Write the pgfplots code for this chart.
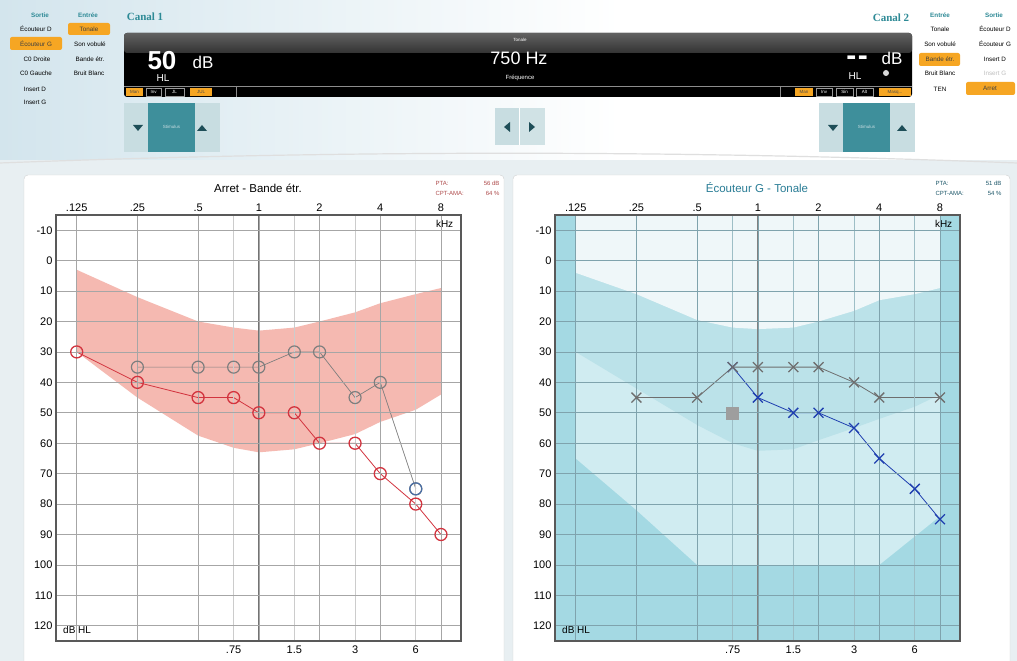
\documentclass[border=0pt]{standalone}
\usepackage{fontspec}
\setmainfont{Liberation Sans}
\newfontfamily\canalfont{Liberation Serif}
\usepackage{pgfplots}
\pgfplotsset{compat=1.18}

\definecolor{teal1}{HTML}{2E8A96}
\definecolor{orangeb}{HTML}{F6A623}
\definecolor{btnlight}{HTML}{C8DDE1}
\definecolor{btnteal}{HTML}{3E8F9B}
\definecolor{arrowc}{HTML}{1E4E58}
\definecolor{hdr}{HTML}{D3E5ED}
\definecolor{bgl}{HTML}{E8EFF2}
\definecolor{bandpink}{HTML}{F5B9B1}
\definecolor{redmark}{HTML}{D2343F}
\definecolor{graymark}{HTML}{7E7E7E}
\definecolor{bluecirc}{HTML}{4A6FA5}
\definecolor{zoneDark}{HTML}{A4D9E3}
\definecolor{zoneLight}{HTML}{D0ECF1}
\definecolor{zoneMid}{HTML}{BBE2E9}
\definecolor{zoneTop}{HTML}{EFF7F9}
\definecolor{xgray}{HTML}{6E6E6E}
\definecolor{xblue}{HTML}{1F3FB0}
\definecolor{titleteal}{HTML}{2A7D96}
\definecolor{gridR}{HTML}{7FA3AD}
\definecolor{gridRm}{HTML}{9DBEC6}

\newcommand{\ui}{\fontsize{6.3}{7}\selectfont}
\newcommand{\tinyf}{\fontsize{4.5}{5}\selectfont}
\newcommand{\tickf}{\fontsize{11}{12}\selectfont}

% x positions are octaves from 1 kHz: .125=-3 ... 8=3, .75=-0.415, 1.5=0.585, 3=1.585, 6=2.585

\begin{document}
\begin{tikzpicture}
\useasboundingbox (0pt,0pt) rectangle (1017pt,661pt);

\begin{scope}[x=1pt,y=-1pt,shift={(0pt,661pt)}]
% background
\fill[bgl] (0,0) rectangle (1017,661);
\fill[white] (0,0) rectangle (1017,160);
\shade[left color=hdr, right color=white] (0,0) rectangle (620,160);
\draw[gray!25, line width=1.2pt] (0,163) .. controls (340,150) and (680,150) .. (1017,163);
\draw[fill=white, draw=black!18, rounded corners=4pt] (24,175) rectangle (504,675);
\draw[fill=white, draw=black!18, rounded corners=4pt] (513,175) rectangle (1010,675);

% left menus
\node[font=\ui\bfseries, text=teal1] at (40,15) {Sortie};
\node[font=\ui\bfseries, text=teal1] at (88,15) {Entrée};
\node[font=\ui] at (36,29) {Écouteur D};
\fill[orangeb, rounded corners=2pt] (10,37) rectangle (62,50);
\node[font=\ui, text=black!75] at (36,44) {Écouteur G};
\node[font=\ui] at (37,59) {C0 Droite};
\node[font=\ui] at (36,73) {C0 Gauche};
\node[font=\ui] at (35,89) {Insert D};
\node[font=\ui] at (35,102) {Insert G};
\fill[orangeb, rounded corners=2pt] (68,23) rectangle (110,35);
\node[font=\ui, text=black!75] at (89,29) {Tonale};
\node[font=\ui] at (90,44) {Son vobulé};
\node[font=\ui] at (90,59) {Bande étr.};
\node[font=\ui] at (89,73) {Bruit Blanc};
\node[font=\canalfont\bfseries\fontsize{11}{12}\selectfont, text=teal1] at (145,17) {Canal 1};

% right menus
\node[font=\canalfont\bfseries\fontsize{11}{12}\selectfont, text=teal1] at (891,18) {Canal 2};
\node[font=\ui\bfseries, text=teal1] at (940,15) {Entrée};
\node[font=\ui\bfseries, text=teal1] at (994,15) {Sortie};
\node[font=\ui] at (940,29) {Tonale};
\node[font=\ui] at (940,44) {Son vobulé};
\fill[orangeb, rounded corners=2pt] (919,53) rectangle (960,66);
\node[font=\ui, text=black!75] at (940,59.5) {Bande étr.};
\node[font=\ui] at (940,73) {Bruit Blanc};
\node[font=\ui] at (940,89) {TEN};
\node[font=\ui] at (995,29) {Écouteur D};
\node[font=\ui] at (995,44) {Écouteur G};
\node[font=\ui] at (995,59) {Insert D};
\node[font=\ui, text=black!25] at (995,73) {Insert G};
\fill[orangeb, rounded corners=2pt] (966,82) rectangle (1015,95);
\node[font=\ui, text=black!75] at (990,88.5) {Arret};

% display
\fill[black, rounded corners=3pt] (124,33) rectangle (912,97);
\shade[top color=black!62, bottom color=black!80, rounded corners=3pt] (124,33) rectangle (912,53);
\draw[black!45, line width=0.5pt] (124,86) -- (912,86);
\draw[black!45, line width=0.4pt] (236,86) -- (236,97) (780,86) -- (780,97);
\node[font=\bfseries\fontsize{26}{28}\selectfont, white] at (162,61) {50};
\node[font=\fontsize{17}{18}\selectfont, white] at (203,62) {dB};
\node[font=\fontsize{10}{11}\selectfont, white] at (163,78) {HL};
\node[font=\tinyf, white] at (520,40) {Tonale};
\node[font=\fontsize{18}{20}\selectfont, white] at (519,58) {750 Hz};
\node[font=\fontsize{6}{7}\selectfont, white] at (520,78) {Fréquence};
\node[font=\bfseries\fontsize{30}{32}\selectfont, white, anchor=base, inner sep=0pt] at (857,66) {-\hspace{1.5pt}-};
\node[font=\fontsize{17}{18}\selectfont, white] at (892,58) {dB};
\node[font=\fontsize{10}{11}\selectfont, white] at (855,76) {HL};
\fill[black!15] (886,73) circle (3);
% display buttons
\fill[orangeb] (126,88) rectangle (143,96); \node[font=\tinyf, text=black!70] at (134.5,92) {Man};
\draw[black!40, line width=0.3pt] (146,88) rectangle (161,96); \node[font=\tinyf, white] at (153.5,92) {Inv};
\draw[black!40, line width=0.3pt] (165,88) rectangle (184,96); \node[font=\tinyf, white] at (174.5,92) {JL};
\fill[orangeb] (190,88) rectangle (212,96); \node[font=\tinyf, text=black!70] at (201,92) {JUL};
\fill[orangeb] (795,88) rectangle (813,96); \node[font=\tinyf, text=black!70] at (804,92) {Man};
\draw[black!40, line width=0.3pt] (816,88) rectangle (832,96); \node[font=\tinyf, white] at (824,92) {Inv};
\draw[black!40, line width=0.3pt] (836,88) rectangle (853,96); \node[font=\tinyf, white] at (844.5,92) {Sin};
\draw[black!40, line width=0.3pt] (856,88) rectangle (873,96); \node[font=\tinyf, white] at (864.5,92) {Alt};
\fill[orangeb] (879,88) rectangle (911,96); \node[font=\tinyf, text=black!70] at (895,92) {Masq...};

% stimulus rows
\fill[btnlight] (124,103) rectangle (148,152);
\fill[btnteal] (148,103) rectangle (195,152);
\fill[btnlight] (195,103) rectangle (220,152);
\node[font=\tinyf, text=btnlight] at (171.5,127) {Stimulus};
\fill[arrowc] (133,125) -- (143,125) -- (138,131) -- cycle;
\fill[arrowc] (197,131) -- (207,131) -- (202,125) -- cycle;
\fill[btnlight] (819,103) rectangle (843,152);
\fill[btnteal] (843,103) rectangle (890,152);
\fill[btnlight] (890,103) rectangle (915,152);
\node[font=\tinyf, text=btnlight] at (866.5,127) {Stimulus};
\fill[arrowc] (828,125) -- (838,125) -- (833,131) -- cycle;
\fill[arrowc] (897,131) -- (907,131) -- (902,125) -- cycle;
\fill[btnlight] (495,108) rectangle (519,145);
\fill[btnlight!85!white] (519,108) rectangle (545,145);
\draw[white, line width=0.5pt] (519,108) -- (519,145);
\fill[arrowc] (510,122) -- (510,132) -- (504,127) -- cycle;
\fill[arrowc] (529,122) -- (529,132) -- (535,127) -- cycle;

% chart titles and texts
\node[font=\fontsize{11.5}{12}\selectfont] at (258,188) {Arret - Bande étr.};
\node[font=\fontsize{11.5}{12}\selectfont, text=titleteal] at (757,188) {Écouteur G - Tonale};
\node[font=\fontsize{6}{7}\selectfont, text=red!55!black!70, anchor=west] at (432,183) {PTA:};
\node[font=\fontsize{6}{7}\selectfont, text=red!55!black!70, anchor=east] at (503,183) {56 dB};
\node[font=\fontsize{6}{7}\selectfont, text=red!55!black!70, anchor=west] at (432,193) {CPT-AMA:};
\node[font=\fontsize{6}{7}\selectfont, text=red!55!black!70, anchor=east] at (503,193) {64 \%};
\node[font=\fontsize{6}{7}\selectfont, text=titleteal!70!black, anchor=west] at (932,183) {PTA:};
\node[font=\fontsize{6}{7}\selectfont, text=titleteal!70!black, anchor=east] at (1005,183) {51 dB};
\node[font=\fontsize{6}{7}\selectfont, text=titleteal!70!black, anchor=west] at (932,193) {CPT-AMA:};
\node[font=\fontsize{6}{7}\selectfont, text=titleteal!70!black, anchor=east] at (1005,193) {54 \%};
\end{scope}

% ---------- left audiogram ----------
\begin{axis}[at={(56pt,20pt)}, anchor=south west,
  scale only axis, width=405pt, height=426pt,
  xmin=-3.341, xmax=3.33, y dir=reverse, ymin=-15, ymax=125,
  xtick={-3,-2,-1,0,1,2,3}, xticklabels={.125,.25,.5,1,2,4,8},
  xticklabel pos=upper,
  minor xtick={-0.415,0.585,1.585,2.585},
  ytick={-10,0,...,120},
  yticklabel style={/pgf/number format/assume math mode=true, font=\tickf},
  xticklabel style={font=\tickf},
  grid=both, major tick length=0pt, minor tick length=0pt,
  axis line style={draw=black!65, line width=1.1pt},
  major grid style={draw=black!35, line width=0.6pt},
  minor grid style={draw=black!20, line width=0.6pt},
  axis on top, clip=false]
% normal-hearing band: upper edge left to right, lower edge right to left
\addplot[fill=bandpink, draw=none] coordinates {
  (-3,3) (-2,12) (-1,20) (-0.415,22) (0,23) (0.585,22) (1,20) (1.585,17) (2,14) (2.585,11) (3,9)
  (3,44) (2.585,49) (2,53) (1.585,57) (1,60) (0.585,62) (0,63) (-0.415,61.5) (-1,57.5) (-2,45) (-3,30)} -- cycle;
\draw[black!55, line width=0.9pt] (axis cs:0,-15) -- (axis cs:0,125);
\addplot[graymark, line width=0.7pt, mark=o, mark size=6pt,
  mark options={line width=1.2pt, fill=white, fill opacity=0.5}] coordinates {
  (-2,35) (-1,35) (-0.415,35) (0,35) (0.585,30) (1,30) (1.585,45) (2,40) (2.585,75)};
\addplot[bluecirc, only marks, mark=o, mark size=6pt,
  mark options={line width=1.2pt, fill=white}] coordinates {(2.585,75)};
\addplot[redmark, line width=0.8pt, mark=o, mark size=6pt,
  mark options={line width=1.3pt, fill=white, fill opacity=0.5}] coordinates {
  (-3,30) (-2,40) (-1,45) (-0.415,45) (0,50) (0.585,50) (1,60) (1.585,60) (2,70) (2.585,80) (3,90)};
\node[font=\tickf, anchor=north, yshift=-1pt] at (axis cs:-0.415,125) {.75};
\node[font=\tickf, anchor=north, yshift=-1pt] at (axis cs:0.585,125) {1.5};
\node[font=\tickf, anchor=north, yshift=-1pt] at (axis cs:1.585,125) {3};
\node[font=\tickf, anchor=north, yshift=-1pt] at (axis cs:2.585,125) {6};
\node[font=\fontsize{10}{11}\selectfont] at (axis cs:3.06,-12) {kHz};
\node[font=\fontsize{10}{11}\selectfont, anchor=west] at (axis cs:-3.28,121.5) {dB HL};
\end{axis}

% ---------- right audiogram ----------
\begin{axis}[at={(555pt,20pt)}, anchor=south west,
  scale only axis, width=405pt, height=426pt,
  xmin=-3.341, xmax=3.33, y dir=reverse, ymin=-15, ymax=125,
  xtick={-3,-2,-1,0,1,2,3}, xticklabels={.125,.25,.5,1,2,4,8},
  xticklabel pos=upper,
  minor xtick={-0.415,0.585,1.585,2.585},
  ytick={-10,0,...,120},
  yticklabel style={/pgf/number format/assume math mode=true, font=\tickf},
  xticklabel style={font=\tickf},
  grid=both, major tick length=0pt, minor tick length=0pt,
  axis line style={draw=black!65, line width=1.1pt},
  major grid style={draw=gridR, line width=0.6pt},
  minor grid style={draw=gridRm, line width=0.6pt},
  axis on top, clip=false]
\addplot[fill=zoneDark, draw=none] coordinates {(-3.341,-15) (3.33,-15) (3.33,125) (-3.341,125)} -- cycle;
\addplot[fill=zoneLight, draw=none] coordinates {
  (-3,-15) (3,-15) (3,84) (2,100) (1,100) (0,100) (-1,100) (-2,82) (-3,65)} -- cycle;
\addplot[fill=zoneMid, draw=none] coordinates {
  (-3,-15) (3,-15) (3,44) (2.585,48) (2,52) (1.585,55) (1,59) (0.585,62) (0,62.5) (-0.415,60) (-1,54) (-2,42) (-3,30)} -- cycle;
\addplot[fill=zoneTop, draw=none] coordinates {
  (-3,-15) (3,-15) (3,9) (2.585,11) (2,13) (1.585,16.5) (1,20) (0.585,22) (0,22.5) (-0.415,22) (-1,19.5) (-2,11) (-3,4)} -- cycle;
\draw[black!50, line width=0.9pt] (axis cs:0,-15) -- (axis cs:0,125);
\addplot[only marks, mark=square*, mark size=6pt, color=black!38] coordinates {(-0.415,50)};
\addplot[xblue, line width=0.8pt, mark=x, mark size=7pt, mark options={line width=1.3pt}] coordinates {
  (-0.415,35) (0,45) (0.585,50) (1,50) (1.585,55) (2,65) (2.585,75) (3,85)};
\addplot[xgray, line width=0.8pt, mark=x, mark size=7pt, mark options={line width=1.3pt}] coordinates {
  (-2,45) (-1,45) (-0.415,35) (0,35) (0.585,35) (1,35) (1.585,40) (2,45) (3,45)};
\node[font=\tickf, anchor=north, yshift=-1pt] at (axis cs:-0.415,125) {.75};
\node[font=\tickf, anchor=north, yshift=-1pt] at (axis cs:0.585,125) {1.5};
\node[font=\tickf, anchor=north, yshift=-1pt] at (axis cs:1.585,125) {3};
\node[font=\tickf, anchor=north, yshift=-1pt] at (axis cs:2.585,125) {6};
\node[font=\fontsize{10}{11}\selectfont] at (axis cs:3.06,-12) {kHz};
\node[font=\fontsize{10}{11}\selectfont, anchor=west] at (axis cs:-3.28,121.5) {dB HL};
\end{axis}
\end{tikzpicture}
\end{document}
